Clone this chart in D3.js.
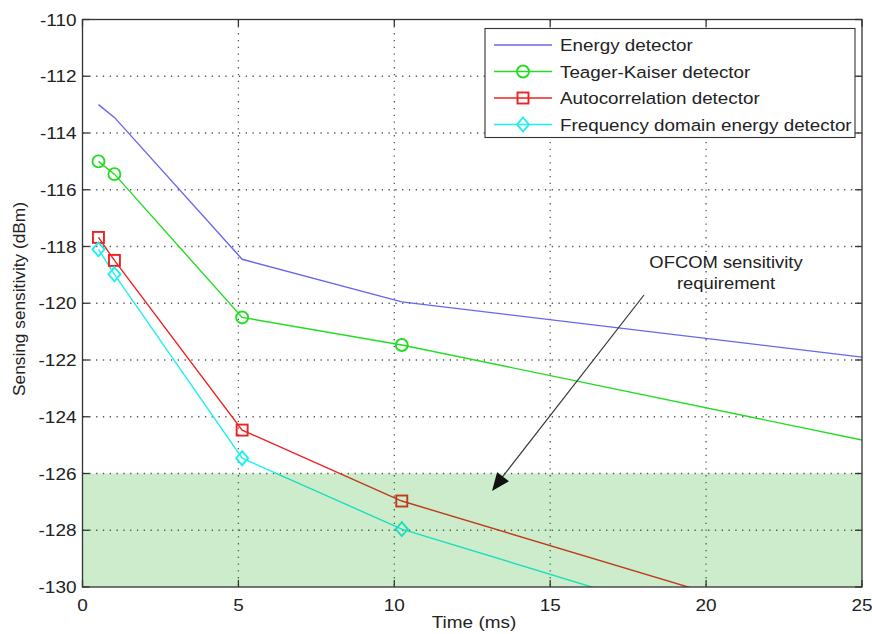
<!DOCTYPE html>
<html><head><meta charset="utf-8">
<script src="https://cdn.jsdelivr.net/npm/d3@7"></script>
<style>body{margin:0;background:#fff}svg{display:block}text{font-family:Arial,"Liberation Sans",sans-serif;fill:#222}</style>
</head><body>
<svg id="c" width="872" height="634"></svg>
<script>
const times = [0.512, 1.024, 5.12, 10.24, 25];
const energy = [-113.0, -113.45, -118.45, -119.95, -121.9];
const teager = [-115.0, -115.45, -120.5, -121.47, -124.82];
const autocorr = [-117.68, -118.49, -124.47, -126.97, -131.84];
const freqDomain = [-118.1, -118.98, -125.46, -127.96, -132.9];
const seriesNames = ["Energy detector","Teager-Kaiser detector","Autocorrelation detector","Frequency domain energy detector"];
const seriesColors = ["#6666ee","#22dd22","#ee2222","#22eeee"];
const seriesMarkers = ["none","circle","square","diamond"];
const xTicks = [0,5,10,15,20,25];
const yTicks = [-110,-112,-114,-116,-118,-120,-122,-124,-126,-128,-130];
const bandRange = [-130,-126];

const svg = d3.select("#c");
const L=82.5, R=862, T=19.5, B=587;
const SX = 1.15;
const x = d3.scaleLinear().domain([0,25]).range([L,R]);
const y = d3.scaleLinear().domain([-130,-110]).range([B,T]);

function txt(parent, tx, ty, s, size, anchor, sx){
  return parent.append("text")
    .attr("transform", `translate(${tx},${ty}) scale(${sx||SX},1)`)
    .attr("text-anchor", anchor||"start").attr("font-size", size).text(s);
}

svg.append("defs").append("clipPath").attr("id","clip").append("rect")
  .attr("x",L).attr("y",T).attr("width",R-L).attr("height",B-T);

// grid
const g = svg.append("g");
xTicks.slice(1,-1).forEach(t=>g.append("line").attr("x1",x(t)).attr("x2",x(t)).attr("y1",T).attr("y2",B)
  .attr("stroke","#555").attr("stroke-width",1.3).attr("stroke-dasharray","1.3,5.5"));
yTicks.slice(1,-1).forEach(t=>g.append("line").attr("x1",L).attr("x2",R).attr("y1",y(t)).attr("y2",y(t))
  .attr("stroke","#555").attr("stroke-width",1.3).attr("stroke-dasharray","1.3,5.5"));

// series
const allSeries = [energy, teager, autocorr, freqDomain];
const lineGen = d3.line().x((d,i)=>x(times[i])).y(d=>y(d));
const pg = svg.append("g").attr("clip-path","url(#clip)");
allSeries.forEach((s,k)=>{
  pg.append("path").datum(s).attr("d",lineGen).attr("fill","none").attr("stroke",seriesColors[k]).attr("stroke-width",1.4);
});
function marker(sel, type, cx, cy, color){
  if(type==="circle") sel.append("circle").attr("cx",cx).attr("cy",cy).attr("r",6).attr("fill","none").attr("stroke",color).attr("stroke-width",1.9);
  else if(type==="square") sel.append("rect").attr("x",cx-5.5).attr("y",cy-5.5).attr("width",11).attr("height",11).attr("fill","none").attr("stroke",color).attr("stroke-width",1.9);
  else if(type==="diamond") sel.append("path").attr("d",`M${cx},${cy-7}L${cx+6},${cy}L${cx},${cy+7}L${cx-6},${cy}Z`).attr("fill","none").attr("stroke",color).attr("stroke-width",1.9);
}
allSeries.forEach((s,k)=>{
  s.slice(0,4).forEach((v,i)=>marker(pg, seriesMarkers[k], x(times[i]), y(v), seriesColors[k]));
});

// band (semi-transparent over lines)
svg.append("rect").attr("x",L).attr("y",y(bandRange[1])).attr("width",R-L).attr("height",y(bandRange[0])-y(bandRange[1]))
  .attr("fill","#00a000").attr("fill-opacity",0.2);

// frame & ticks
const fr = svg.append("g").attr("stroke","#333").attr("stroke-width",1.3).attr("fill","none");
fr.append("rect").attr("x",L).attr("y",T).attr("width",R-L).attr("height",B-T);
xTicks.forEach(t=>{
  fr.append("line").attr("x1",x(t)).attr("x2",x(t)).attr("y1",B).attr("y2",B-7);
  fr.append("line").attr("x1",x(t)).attr("x2",x(t)).attr("y1",T).attr("y2",T+7);
});
yTicks.forEach(t=>{
  fr.append("line").attr("x1",L).attr("x2",L+7).attr("y1",y(t)).attr("y2",y(t));
  fr.append("line").attr("x1",R).attr("x2",R-7).attr("y1",y(t)).attr("y2",y(t));
});
xTicks.forEach(t=>txt(svg, x(t), B+24, t, 16.5, "middle"));
yTicks.forEach(t=>txt(svg, L-6, y(t)+6, t, 16.5, "end"));

txt(svg, 474, 628, "Time (ms)", 16.5, "middle");
svg.append("text").attr("transform","translate(24.5,299) rotate(-90)").attr("text-anchor","middle").attr("font-size",17.3).text("Sensing sensitivity (dBm)");

// annotation
txt(svg, 726, 268, "OFCOM sensitivity", 16, "middle");
txt(svg, 726, 289, "requirement", 16, "middle");
svg.append("line").attr("x1",644).attr("y1",295).attr("x2",500).attr("y2",480).attr("stroke","#333").attr("stroke-width",1.2);
{
  const tx=492, ty=491, ang=Math.atan2(491-295, 492-644);
  const len=18, w=7.5;
  const bx=tx-len*Math.cos(ang), by=ty-len*Math.sin(ang);
  const px=-Math.sin(ang), py=Math.cos(ang);
  svg.append("path").attr("d",`M${tx},${ty}L${bx+w*px},${by+w*py}L${bx-w*px},${by-w*py}Z`).attr("fill","#111");
}

// legend
const lg = svg.append("g");
lg.append("rect").attr("x",485).attr("y",28.5).attr("width",370).attr("height",109).attr("fill","#fff").attr("stroke","#333").attr("stroke-width",1.1);
seriesNames.forEach((n,k)=>{
  const yy = 45 + k*26.5;
  lg.append("line").attr("x1",494).attr("x2",552).attr("y1",yy).attr("y2",yy).attr("stroke",seriesColors[k]).attr("stroke-width",1.3);
  marker(lg, seriesMarkers[k], 523, yy, seriesColors[k]);
  txt(lg, 560, yy+6, n, 16.5, "start", 1.14);
});
</script>
</body></html>
